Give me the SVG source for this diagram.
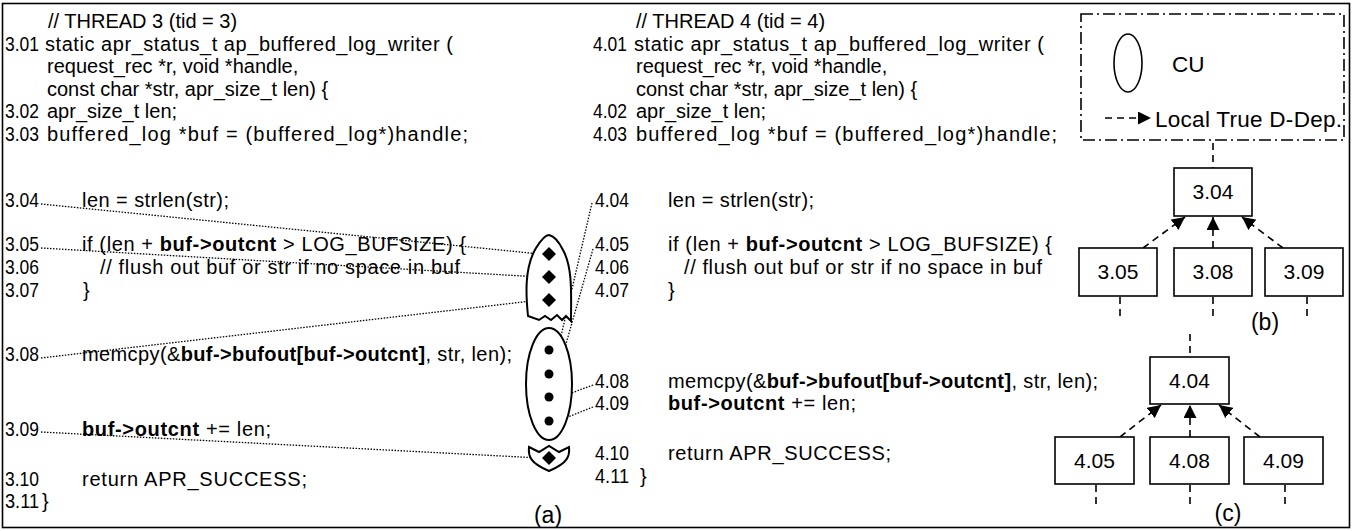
<svg xmlns="http://www.w3.org/2000/svg" width="1354" height="531" viewBox="0 0 1354 531">
<style>
.t{font-family:"Liberation Sans",Arial,Helvetica,sans-serif;font-size:20px;fill:#000}
.n{font-family:"Liberation Sans",Arial,Helvetica,sans-serif;font-size:20px;fill:#000}
.lb{font-family:"Liberation Sans",Arial,Helvetica,sans-serif;font-size:23px;fill:#000;text-anchor:middle}
.lg{font-family:"Liberation Sans",Arial,Helvetica,sans-serif;font-size:22.5px;fill:#000}
.bx{font-family:"Liberation Sans",Arial,Helvetica,sans-serif;font-size:21px;fill:#000;text-anchor:middle}
.b{font-weight:bold}
.box{fill:#fff;stroke:#000;stroke-width:1.6}
.cu{fill:#fff;stroke:#000;stroke-width:2}
.dot{fill:none;stroke:#000;stroke-width:1.3;stroke-dasharray:1.5 1.5}
.dep{fill:none;stroke:#000;stroke-width:1.6;stroke-dasharray:7 5}
.stub{fill:none;stroke:#000;stroke-width:1.6;stroke-dasharray:7 5}
</style>
<defs>
<marker id="ah" viewBox="0 0 12 12" refX="12" refY="6" markerWidth="13" markerHeight="13" orient="auto" markerUnits="userSpaceOnUse"><path d="M0,0 L12,6 L0,12 Z" fill="#000"/></marker>
<path id="dia" d="M0,-7 L7,0 L0,7 L-7,0 Z" fill="#000"/>
</defs>
<rect x="2.5" y="3.5" width="1347" height="524" fill="#fff" stroke="#000" stroke-width="1.6"/>

<g id="thread3">
<text class="t" x="48" y="28">// THREAD 3 (tid = 3)</text>
<text class="n" x="5" y="50.5" textLength="34" lengthAdjust="spacingAndGlyphs">3.01</text><text class="t" x="45" y="50.5" textLength="408" lengthAdjust="spacing">static apr_status_t ap_buffered_log_writer (</text>
<text class="t" x="47" y="73">request_rec *r, void *handle,</text>
<text class="t" x="47" y="95.5">const char *str, apr_size_t len) {</text>
<text class="n" x="5" y="118" textLength="34" lengthAdjust="spacingAndGlyphs">3.02</text><text class="t" x="47" y="118">apr_size_t len;</text>
<text class="n" x="5" y="140.5" textLength="34" lengthAdjust="spacingAndGlyphs">3.03</text><text class="t" x="47" y="140.5" textLength="421" lengthAdjust="spacing">buffered_log *buf = (buffered_log*)handle;</text>
<text class="n" x="5" y="207" textLength="34" lengthAdjust="spacingAndGlyphs">3.04</text><text class="t" x="82" y="207" textLength="147" lengthAdjust="spacing">len = strlen(str);</text>
<text class="n" x="5" y="251" textLength="34" lengthAdjust="spacingAndGlyphs">3.05</text><text class="t" x="82" y="251" textLength="384" lengthAdjust="spacing">if (len + <tspan class="b">buf-&gt;outcnt</tspan> &gt; LOG_BUFSIZE) {</text>
<text class="n" x="5" y="274" textLength="34" lengthAdjust="spacingAndGlyphs">3.06</text><text class="t" x="100" y="274" textLength="360" lengthAdjust="spacing">// flush out buf or str if no space in buf</text>
<text class="n" x="5" y="297" textLength="34" lengthAdjust="spacingAndGlyphs">3.07</text><text class="t" x="83" y="297">}</text>
<text class="n" x="5" y="361" textLength="34" lengthAdjust="spacingAndGlyphs">3.08</text><text class="t" x="82" y="361" textLength="430" lengthAdjust="spacing">memcpy(&amp;<tspan class="b">buf-&gt;bufout[buf-&gt;outcnt]</tspan>, str, len);</text>
<text class="n" x="5" y="436" textLength="34" lengthAdjust="spacingAndGlyphs">3.09</text><text class="t" x="82" y="436" textLength="189" lengthAdjust="spacing"><tspan class="b">buf-&gt;outcnt</tspan> += len;</text>
<text class="n" x="5" y="486" textLength="34" lengthAdjust="spacingAndGlyphs">3.10</text><text class="t" x="82" y="486" textLength="225" lengthAdjust="spacing">return APR_SUCCESS;</text>
<text class="n" x="5" y="508" textLength="34" lengthAdjust="spacingAndGlyphs">3.11</text><text class="t" x="42" y="508">}</text>
</g>

<g id="thread4">
<text class="t" x="636" y="28">// THREAD 4 (tid = 4)</text>
<text class="n" x="593" y="50.5" textLength="34" lengthAdjust="spacingAndGlyphs">4.01</text><text class="t" x="634" y="50.5" textLength="410" lengthAdjust="spacing">static apr_status_t ap_buffered_log_writer (</text>
<text class="t" x="636" y="73">request_rec *r, void *handle,</text>
<text class="t" x="636" y="95.5">const char *str, apr_size_t len) {</text>
<text class="n" x="593" y="118" textLength="34" lengthAdjust="spacingAndGlyphs">4.02</text><text class="t" x="636" y="118">apr_size_t len;</text>
<text class="n" x="593" y="140.5" textLength="34" lengthAdjust="spacingAndGlyphs">4.03</text><text class="t" x="636" y="140.5" textLength="421" lengthAdjust="spacing">buffered_log *buf = (buffered_log*)handle;</text>
<text class="n" x="595" y="207" textLength="34" lengthAdjust="spacingAndGlyphs">4.04</text><text class="t" x="668" y="207" textLength="146" lengthAdjust="spacing">len = strlen(str);</text>
<text class="n" x="595" y="251" textLength="34" lengthAdjust="spacingAndGlyphs">4.05</text><text class="t" x="668" y="251" textLength="384" lengthAdjust="spacing">if (len + <tspan class="b">buf-&gt;outcnt</tspan> &gt; LOG_BUFSIZE) {</text>
<text class="n" x="595" y="274" textLength="34" lengthAdjust="spacingAndGlyphs">4.06</text><text class="t" x="684" y="274" textLength="358" lengthAdjust="spacing">// flush out buf or str if no space in buf</text>
<text class="n" x="595" y="297" textLength="34" lengthAdjust="spacingAndGlyphs">4.07</text><text class="t" x="668" y="297">}</text>
<text class="n" x="595" y="388" textLength="34" lengthAdjust="spacingAndGlyphs">4.08</text><text class="t" x="668" y="388" textLength="430" lengthAdjust="spacing">memcpy(&amp;<tspan class="b">buf-&gt;bufout[buf-&gt;outcnt]</tspan>, str, len);</text>
<text class="n" x="595" y="410" textLength="34" lengthAdjust="spacingAndGlyphs">4.09</text><text class="t" x="668" y="410" textLength="188" lengthAdjust="spacing"><tspan class="b">buf-&gt;outcnt</tspan> += len;</text>
<text class="n" x="595" y="460" textLength="34" lengthAdjust="spacingAndGlyphs">4.10</text><text class="t" x="668" y="460" textLength="223" lengthAdjust="spacing">return APR_SUCCESS;</text>
<text class="n" x="595" y="483" textLength="34" lengthAdjust="spacingAndGlyphs">4.11</text><text class="t" x="640" y="483">}</text>
</g>

<g id="connectors">
<line class="dot" x1="41" y1="204" x2="540" y2="254"/>
<line class="dot" x1="41" y1="248" x2="540" y2="277"/>
<line class="dot" x1="41" y1="358" x2="540" y2="300"/>
<line class="dot" x1="41" y1="432" x2="540" y2="458"/>
<line class="dot" x1="592" y1="203" x2="558" y2="349"/>
<line class="dot" x1="593" y1="249" x2="558" y2="372"/>
<line class="dot" x1="593" y1="385" x2="558" y2="398"/>
<line class="dot" x1="593" y1="407" x2="558" y2="421"/>
<line class="stub" x1="1213" y1="143" x2="1213" y2="168"/>
<line class="dep" x1="1143" y1="248" x2="1185" y2="217" marker-end="url(#ah)"/>
<line class="dep" x1="1213" y1="248" x2="1213" y2="217" marker-end="url(#ah)"/>
<line class="dep" x1="1283" y1="248" x2="1242" y2="217" marker-end="url(#ah)"/>
<line class="stub" x1="1120" y1="297" x2="1120" y2="318"/>
<line class="stub" x1="1213" y1="297" x2="1213" y2="318"/>
<line class="stub" x1="1307" y1="297" x2="1307" y2="318"/>
<line class="stub" x1="1190" y1="334" x2="1190" y2="357"/>
<line class="dep" x1="1120" y1="437" x2="1161" y2="405" marker-end="url(#ah)"/>
<line class="dep" x1="1190" y1="437" x2="1190" y2="405" marker-end="url(#ah)"/>
<line class="dep" x1="1260" y1="437" x2="1219" y2="405" marker-end="url(#ah)"/>
<line class="stub" x1="1096" y1="485" x2="1096" y2="506"/>
<line class="stub" x1="1190" y1="485" x2="1190" y2="506"/>
<line class="stub" x1="1285" y1="485" x2="1285" y2="506"/>
</g>

<g id="cu-top">
<path class="cu" d="M528,316 C526,296 524,268 536,248 C541,240 545,235 549,235 C554,236 559,242 563,250 C573,268 571,296 571,321 L566,316 L562,320 L557,315 L551,320 L545,316 L539,320 Z"/>
<use href="#dia" x="549" y="254"/>
<use href="#dia" x="549" y="277"/>
<use href="#dia" x="549" y="300"/>
</g>
<g id="cu-mid">
<ellipse class="cu" cx="549" cy="384" rx="23" ry="56"/>
<circle cx="549" cy="350" r="4.5"/>
<circle cx="549" cy="374" r="4.5"/>
<circle cx="549" cy="397" r="4.5"/>
<circle cx="549" cy="421" r="4.5"/>
</g>
<g id="cu-bot">
<path class="cu" d="M529,447 L539,452 L549,446 L559,452 L569,447 C570,456 568,463 549,471 C530,463 528,456 529,447 Z"/>
<use href="#dia" x="549" y="458"/>
</g>
<text class="lb" x="548" y="523">(a)</text>

<g id="legend">
<rect x="1081" y="14" width="263" height="126" fill="none" stroke="#000" stroke-width="1.6" stroke-dasharray="12 4 2 4"/>
<ellipse cx="1128" cy="63" rx="14" ry="29" fill="none" stroke="#000" stroke-width="1.6"/>
<text class="lg" x="1172" y="72">CU</text>
<line class="dep" x1="1105" y1="118" x2="1151" y2="118" marker-end="url(#ah)"/>
<text class="lg" x="1155" y="127" textLength="187" lengthAdjust="spacing">Local True D-Dep.</text>
</g>

<g id="n304"><rect class="box" x="1174" y="168" width="78" height="48"/><text class="bx" x="1213" y="199">3.04</text></g>
<g id="n305"><rect class="box" x="1079" y="248" width="78" height="48"/><text class="bx" x="1118" y="279">3.05</text></g>
<g id="n308"><rect class="box" x="1174" y="248" width="78" height="48"/><text class="bx" x="1213" y="279">3.08</text></g>
<g id="n309"><rect class="box" x="1265" y="248" width="78" height="48"/><text class="bx" x="1304" y="279">3.09</text></g>
<text class="lb" x="1265" y="330">(b)</text>

<g id="n404"><rect class="box" x="1150" y="357" width="79" height="47"/><text class="bx" x="1189.5" y="388">4.04</text></g>
<g id="n405"><rect class="box" x="1055" y="437" width="79" height="47"/><text class="bx" x="1094.5" y="468">4.05</text></g>
<g id="n408"><rect class="box" x="1150" y="437" width="79" height="47"/><text class="bx" x="1189.5" y="468">4.08</text></g>
<g id="n409"><rect class="box" x="1244" y="437" width="79" height="47"/><text class="bx" x="1283.5" y="468">4.09</text></g>
<text class="lb" x="1228" y="521">(c)</text>
</svg>
